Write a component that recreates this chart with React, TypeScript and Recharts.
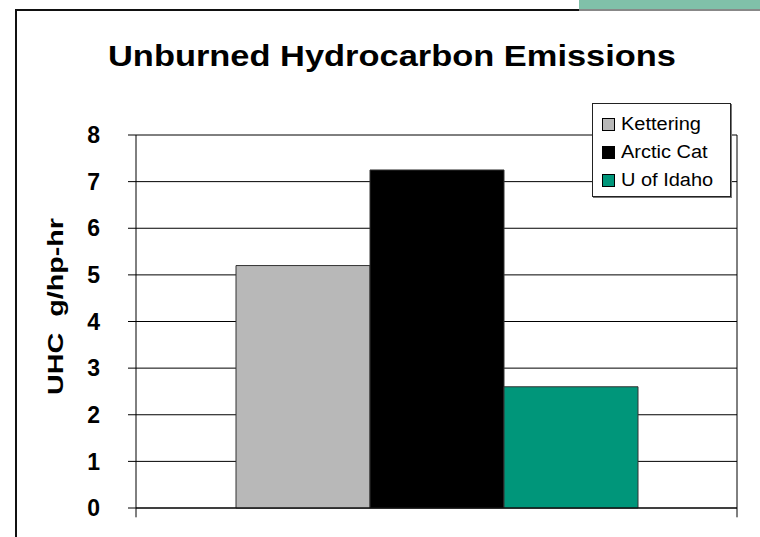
import React from "react";
import { BarChart, Bar, XAxis, YAxis, CartesianGrid, Legend, ReferenceLine } from "recharts";

// chart values
const categories = ["UHC"];
const seriesNames = ["Kettering", "Arctic Cat", "U of Idaho"];
const uhcValues = [5.2, 7.25, 2.6];
const yTicks = [0, 1, 2, 3, 4, 5, 6, 7, 8];

const seriesColors = ["#b8b8b8", "#000000", "#00967a"];
const FONT = '"Liberation Sans", Arial, Helvetica, sans-serif';

const rows = categories.map((c) => {
  const r: Record<string, string | number> = { category: c };
  seriesNames.forEach((s, i) => {
    r[s] = uhcValues[i];
  });
  return r;
});

function LegendBox({ payload }: any) {
  const items = [...(payload || [])].sort(
    (a: any, b: any) => seriesNames.indexOf(a.value) - seriesNames.indexOf(b.value)
  );
  return (
    <div
      style={{
        width: 139,
        height: 94,
        boxSizing: "border-box",
        border: "1px solid #222",
        boxShadow: "1px 1px 0 #777",
        background: "#fff",
        padding: "6px 0 0 9px",
        fontFamily: FONT,
        fontSize: 18,
        color: "#000",
      }}
    >
      {items.map((p: any) => (
        <div key={p.value} style={{ display: "flex", alignItems: "center", height: 28 }}>
          <span
            style={{
              width: 13,
              height: 13,
              boxSizing: "border-box",
              border: "1px solid #000",
              background: p.color,
              marginRight: 6,
              flex: "none",
            }}
          />
          <span style={{ display: "inline-block", transform: "scaleX(1.11)", transformOrigin: "left center", whiteSpace: "nowrap" }}>
            {p.value}
          </span>
        </div>
      ))}
    </div>
  );
}

function YLabel(props: any) {
  const vb = props.viewBox;
  const cx = vb.x + 63;
  const cy = vb.y + vb.height / 2 - 15;
  return (
    <text
      x={cx}
      y={cy}
      transform={`rotate(-90 ${cx} ${cy})`}
      textAnchor="middle"
      fontFamily={FONT}
      fontWeight="bold"
      fontSize={22}
      fill="#000"
      textLength={177}
      lengthAdjust="spacingAndGlyphs"
    >
      {"UHC\u00a0\u00a0g/hp-hr"}
    </text>
  );
}

export default function App() {
  const cat = categories[0];
  return (
    <div style={{ position: "absolute", left: 0, top: 0, width: 760, height: 537, background: "#fff", overflow: "hidden" }}>
      {/* slide frame */}
      <div style={{ position: "absolute", left: 579, top: 0, width: 181, height: 9, background: "#80c0a9" }} />
      <div style={{ position: "absolute", left: 15, top: 9, width: 564, height: 2, background: "#111" }} />
      <div style={{ position: "absolute", left: 579, top: 9, width: 181, height: 2, background: "#888" }} />
      <div style={{ position: "absolute", left: 15, top: 9, width: 2, height: 528, background: "#111" }} />

      <svg width={760} height={100} style={{ position: "absolute", left: 0, top: 0 }}>
        <text
          x={392}
          y={66}
          textAnchor="middle"
          fontFamily={FONT}
          fontWeight="bold"
          fontSize={29}
          fill="#000"
          textLength={568}
          lengthAdjust="spacingAndGlyphs"
        >
          Unburned Hydrocarbon Emissions
        </text>
      </svg>

      <div style={{ position: "absolute", left: 0, top: 0 }}>
        <BarChart
          width={760}
          height={537}
          data={rows}
          margin={{ top: 135, right: 23, bottom: 9, left: 0 }}
          barCategoryGap={100}
          barGap={0}
        >
          <CartesianGrid stroke="#000" vertical={false} horizontal />
          <XAxis dataKey="category" height={20} stroke="#000" tickLine={false} tick={false} />
          <YAxis
            domain={[0, 8]}
            ticks={yTicks}
            width={136}
            tickSize={8}
            tickMargin={28}
            stroke="#000"
            tick={{ fontFamily: FONT, fontWeight: "bold", fontSize: 23, fill: "#000" }}
            label={{ content: YLabel }}
          />
          <Legend
            layout="vertical"
            align="center"
            verticalAlign="middle"
            wrapperStyle={{ left: 592, top: 103, width: 139 }}
            content={LegendBox}
          />
          {seriesNames.map((s, i) => (
            <Bar
              key={s}
              dataKey={s}
              name={s}
              fill={seriesColors[i]}
              stroke="#333"
              strokeWidth={1}
              isAnimationActive={false}
            />
          ))}
          {/* plot right edge and category boundary tick marks */}
          <ReferenceLine
            segment={[{ x: cat, y: 8 }, { x: cat, y: -0.2 }]}
            position="end"
            ifOverflow="visible"
            stroke="#000"
          />
          <ReferenceLine
            segment={[{ x: cat, y: 0 }, { x: cat, y: -0.2 }]}
            position="start"
            ifOverflow="visible"
            stroke="#000"
          />
        </BarChart>
      </div>
    </div>
  );
}
